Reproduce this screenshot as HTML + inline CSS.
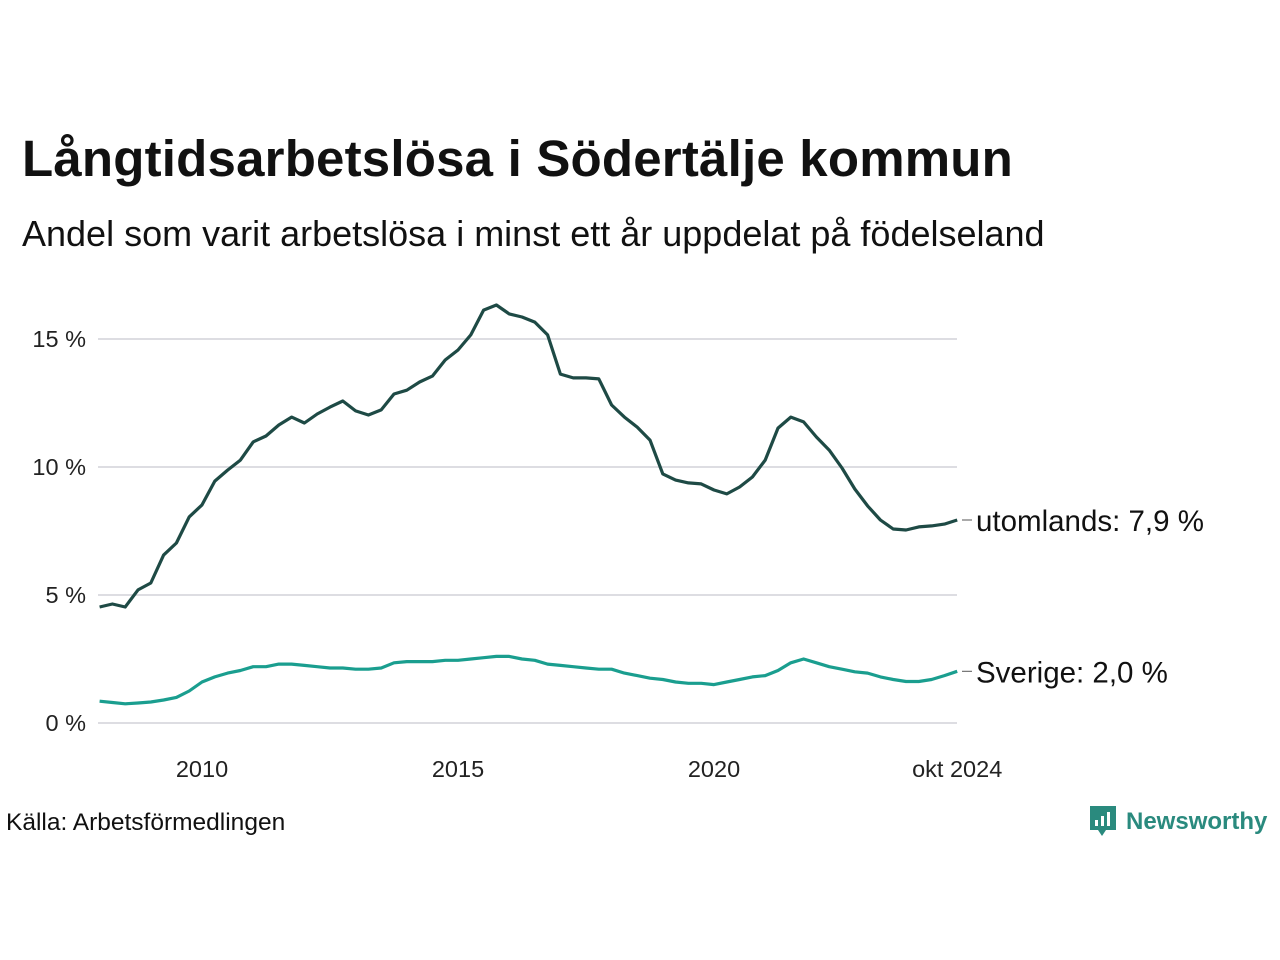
<!DOCTYPE html>
<html><head><meta charset="utf-8">
<style>
body{margin:0;background:#fff;width:1280px;height:960px;overflow:hidden;font-family:"Liberation Sans",sans-serif;color:#111;}
#title{position:absolute;left:22px;top:129px;font-size:51px;font-weight:bold;letter-spacing:0.2px;}
#subtitle{position:absolute;left:22px;top:213px;font-size:36px;}
#source{position:absolute;left:6px;top:809px;font-size:24.5px;}
#logo{position:absolute;left:1088px;top:804px;display:flex;align-items:center;}
#logo span{font-size:24px;font-weight:bold;color:#2a8a7e;margin-left:8px;}
svg text{font-family:"Liberation Sans",sans-serif;}
</style></head><body>
<div id="title">Långtidsarbetslösa i Södertälje kommun</div>
<div id="subtitle">Andel som varit arbetslösa i minst ett år uppdelat på födelseland</div>
<svg id="chart" width="1280" height="960" style="position:absolute;left:0;top:0"></svg>
<div id="source">Källa: Arbetsförmedlingen</div>
<div id="logo">
<svg width="30" height="36" viewBox="0 0 30 36"><path d="M2 2h26v24H18l-4 6-4-6H2z" fill="#2a8a7e"/><rect x="7" y="16" width="3" height="6" fill="#fff"/><rect x="13" y="12" width="3" height="10" fill="#fff"/><rect x="19" y="8" width="3" height="14" fill="#fff"/></svg>
<span>Newsworthy</span></div>
<script>
const startYear = 2008.0;
const stepYears = 0.25;
const utomlands = [4.53,4.65,4.53,5.20,5.47,6.56,7.03,8.05,8.52,9.45,9.88,10.27,10.98,11.21,11.64,11.95,11.72,12.07,12.34,12.58,12.19,12.03,12.23,12.85,13.0,13.32,13.55,14.18,14.57,15.16,16.13,16.33,15.98,15.86,15.66,15.16,13.63,13.48,13.48,13.44,12.42,11.95,11.56,11.05,9.73,9.49,9.38,9.34,9.10,8.95,9.22,9.61,10.27,11.52,11.95,11.76,11.17,10.66,9.96,9.14,8.48,7.93,7.58,7.54,7.66,7.70,7.77,7.93];
const sverige = [0.85,0.8,0.75,0.78,0.82,0.9,1.0,1.25,1.6,1.8,1.95,2.05,2.2,2.2,2.3,2.3,2.25,2.2,2.15,2.15,2.1,2.1,2.15,2.35,2.4,2.4,2.4,2.45,2.45,2.5,2.55,2.6,2.6,2.5,2.45,2.3,2.25,2.2,2.15,2.1,2.1,1.95,1.85,1.75,1.7,1.6,1.55,1.55,1.5,1.6,1.7,1.8,1.85,2.05,2.35,2.5,2.35,2.2,2.1,2.0,1.95,1.8,1.7,1.62,1.62,1.7,1.85,2.02];
const yTicks = [0,5,10,15];
const yTickLabels = ["0 %","5 %","10 %","15 %"];
const xTicks = [2010,2015,2020,2024.75];
const xTickLabels = ["2010","2015","2020","okt 2024"];
const seriesLabels = ["utomlands: 7,9 %","Sverige: 2,0 %"];

const NS="http://www.w3.org/2000/svg";
const svg=document.getElementById('chart');
const X=y=>202+(y-2010)*51.2;
const Y=v=>723-v*25.6;
function mk(t,a){const e=document.createElementNS(NS,t);for(const k in a)e.setAttribute(k,a[k]);svg.appendChild(e);return e;}
yTicks.forEach((t,i)=>{
  const g=mk('line',{x1:98,x2:957,y1:Y(t),y2:Y(t),stroke:'#dddde2','stroke-width':2});
  
  
  const tx=mk('text',{x:86,y:Y(t)+8,'text-anchor':'end','font-size':23.5,fill:'#222'});
  tx.textContent=yTickLabels[i];
  
  
});
xTicks.forEach((t,i)=>{
  const tx=mk('text',{x:X(t),y:777,'text-anchor':'middle','font-size':23.5,fill:'#222'});
  tx.textContent=xTickLabels[i];
  
  
});
function line(vals,color,name,label){
  const d=vals.map((v,i)=>(i?'L':'M')+X(startYear+i*stepYears).toFixed(1)+','+Y(v).toFixed(1)).join('');
  const p=mk('path',{d:d,fill:'none',stroke:color,'stroke-width':3.2,'stroke-linejoin':'round'});
  
  
  const last=vals[vals.length-1];
  const ly=Y(last);
  const tk=mk('line',{x1:962,x2:972,y1:ly,y2:ly,stroke:'#555','stroke-width':1});
  
  
  const tx=mk('text',{x:976,y:ly+11,'font-size':29.5,fill:'#111'});
  tx.textContent=label;
  
  
}
line(sverige,'#1a9e8f','sverige-line',seriesLabels[1]);
line(utomlands,'#1e4a45','utomlands-line',seriesLabels[0]);
</script>
</body></html>
